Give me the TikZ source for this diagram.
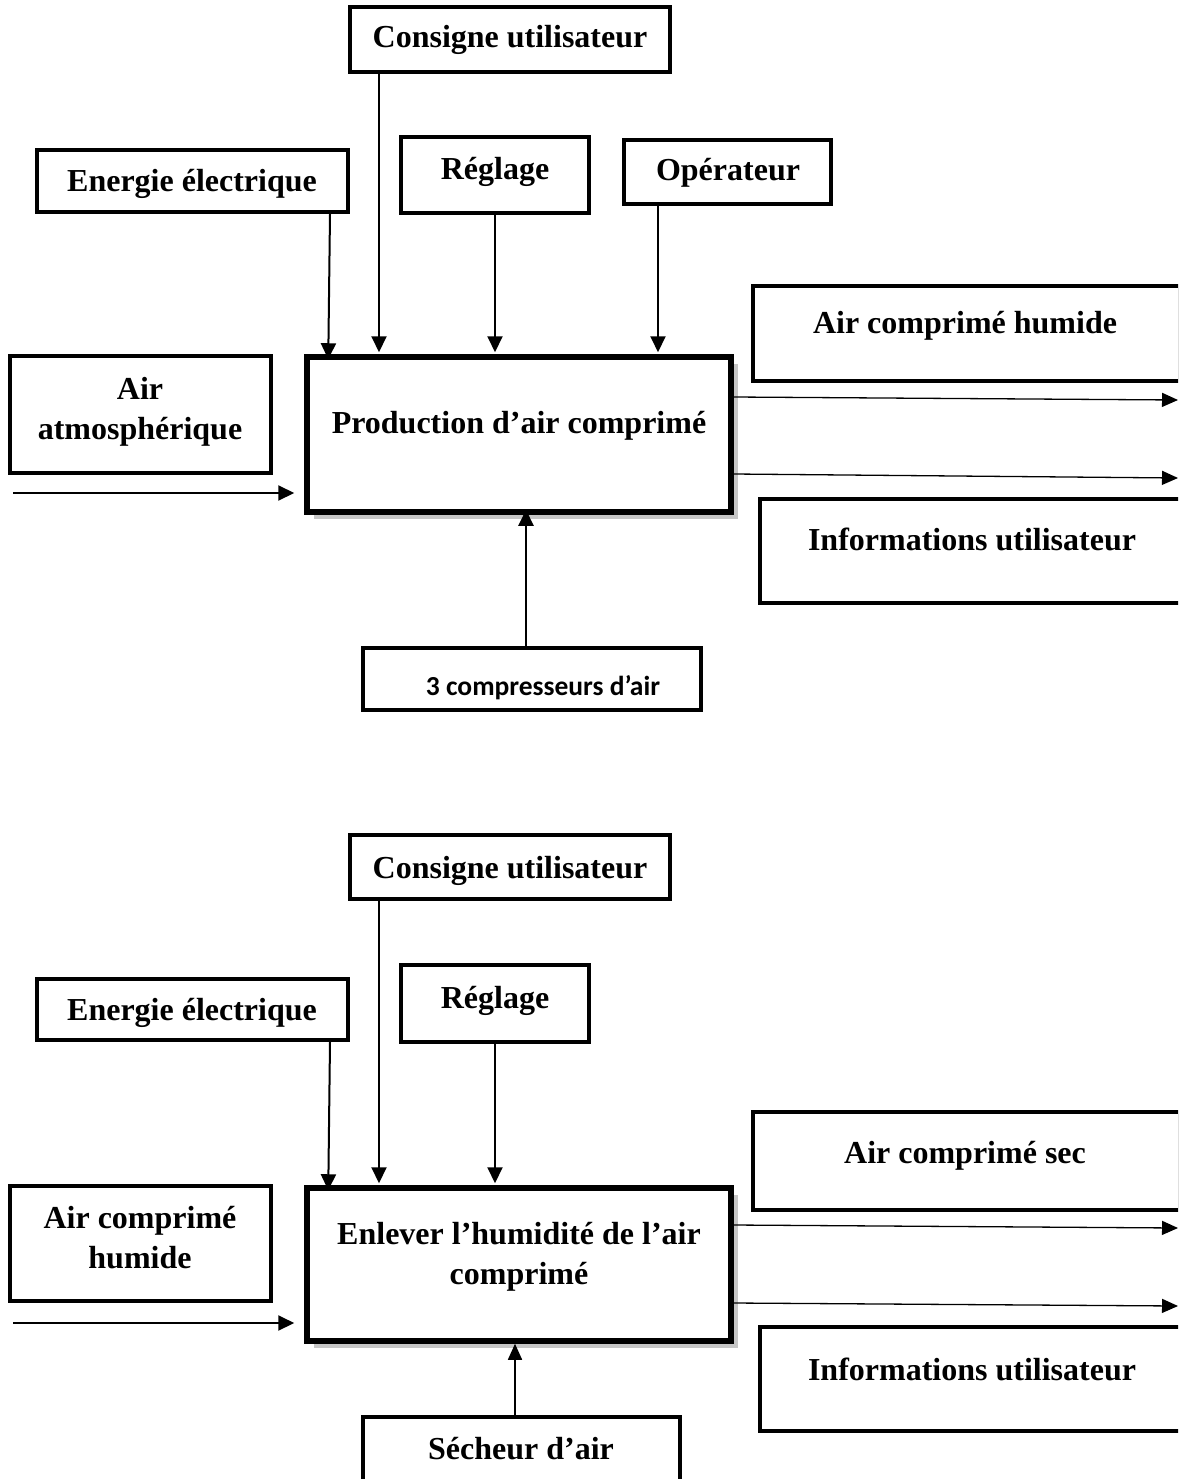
\documentclass[tikz,border=0pt]{standalone}
\usepackage{fontspec}
\setmainfont{Liberation Serif}
\newfontfamily\calibfont{Carlito}
\usetikzlibrary{arrows.meta,calc,fit,shadows}

\begin{document}
\begin{tikzpicture}[x=1pt,y=-1pt,
  box/.style={draw, line width=4pt, inner sep=0pt, fill=white},
  mainbox/.style={draw, line width=5.5pt, inner sep=0pt, fill=white,
    drop shadow={shadow xshift=6.5pt, shadow yshift=-6.5pt, fill=gray!45, opacity=1}},
  lbl/.style={font=\fontsize{32}{40}\selectfont\bfseries, anchor=base, inner sep=0pt},
  lbltwo/.style={lbl, text width=#1, align=flush center},
  sanslbl/.style={font=\fontsize{27.5}{32}\selectfont\calibfont\bfseries, anchor=base, inner sep=0pt},
  arr/.style={line width=2pt, -{Triangle[length=16pt,width=15pt]}},
  outarr/.style={line width=1.3pt, -{Triangle[length=16pt,width=14pt]}},
]
\useasboundingbox (0,0) rectangle (1178,1479);
\clip (0,0) rectangle (1178,1479);

% ---------- First stage: production of compressed air ----------
\node[box, fit={(350,7) (670,72)}] (consigne1) {};
\node[box, fit={(37,150) (348,212)}] (energie1) {};
\node[box, fit={(401,137) (589,213)}] (reglage1) {};
\node[box, fit={(624,140) (831,204)}] (operateur1) {};
\node[box, fit={(10,356) (271,473)}] (airatm) {};
\node[mainbox, fit={(307,357) (731,512)}] (main1) {};
\node[box, fit={(753,286) (1180,381)}] (sortie1a) {};
\node[box, fit={(760,499) (1190,603)}] (sortie1b) {};
\node[box, fit={(363,648) (701,710)}] (compresseurs) {};

\node[lbl] (t-consigne1) at (510,48) {Consigne utilisateur};
\node[lbl] (t-energie1) at (192,192) {Energie électrique};
\node[lbl] (t-reglage1) at (495,180) {Réglage};
\node[lbl] (t-operateur1) at (728,181) {Opérateur};
\node[lbltwo=250pt] (t-airatm) at (140,399) {Air\\atmosphérique};
\node[lbl] (t-main1) at (519,433) {Production d’air comprimé};
\node[lbl] (t-sortie1a) at (965,333) {Air comprimé humide};
\node[lbl] (t-sortie1b) at (972,550) {Informations utilisateur};
\node[sanslbl] (t-compresseurs) at (543,695) {3 compresseurs d’air};

\coordinate (in1) at (13,493);
\coordinate (end1a) at (1178,400);
\coordinate (end1b) at (1178,478);

\draw[arr] ($(energie1.south east)+(-20,0)$) -- ($(main1.north west)+(24,5)$);
\draw[arr] ($(consigne1.south west)+(31,0)$) -- ($(consigne1.south west |- main1.north)+(31,-2)$);
\draw[arr] (reglage1.south) -- ($(reglage1.south |- main1.north)+(0,-2)$);
\draw[arr] ($(operateur1.south west)+(36,0)$) -- ($(operateur1.south west |- main1.north)+(36,-2)$);
\draw[arr] (in1) -- ($(main1.west |- in1)+(-10,0)$);
\draw[outarr] ($(main1.east)+(0,-37.5)$) -- (end1a);
\draw[outarr] ($(main1.east)+(0,39.5)$) -- (end1b);
\draw[arr] ($(compresseurs.north)+(-6,0)$) -- ($(compresseurs.north |- main1.south)+(-6,-5)$);

% ---------- Second stage: drying the compressed air ----------
\node[box, fit={(350,835) (670,899)}] (consigne2) {};
\node[box, fit={(37,979) (348,1040)}] (energie2) {};
\node[box, fit={(401,965) (589,1042)}] (reglage2) {};
\node[box, fit={(10,1186) (271,1301)}] (airhum) {};
\node[mainbox, fit={(307,1188) (731,1341)}] (main2) {};
\node[box, fit={(753,1112) (1180,1210)}] (sortie2a) {};
\node[box, fit={(760,1327) (1190,1431)}] (sortie2b) {};
\node[box, fit={(363,1417) (680,1500)}] (secheur) {};

\node[lbl] (t-consigne2) at (510,878) {Consigne utilisateur};
\node[lbl] (t-energie2) at (192,1020) {Energie électrique};
\node[lbl] (t-reglage2) at (495,1008) {Réglage};
\node[lbltwo=250pt] (t-airhum) at (140,1228) {Air comprimé\\humide};
\node[lbltwo=410pt] (t-main2) at (519,1244) {Enlever l’humidité de l’air\\comprimé};
\node[lbl] (t-sortie2a) at (965,1163) {Air comprimé sec};
\node[lbl] (t-sortie2b) at (972,1380) {Informations utilisateur};
\node[lbl] (t-secheur) at (521,1459) {Sécheur d’air};

\coordinate (in2) at (13,1323);
\coordinate (end2a) at (1178,1228);
\coordinate (end2b) at (1178,1306);

\draw[arr] ($(energie2.south east)+(-20,0)$) -- ($(main2.north west)+(24,5)$);
\draw[arr] ($(consigne2.south west)+(31,0)$) -- ($(consigne2.south west |- main2.north)+(31,-2)$);
\draw[arr] (reglage2.south) -- ($(reglage2.south |- main2.north)+(0,-2)$);
\draw[arr] (in2) -- ($(main2.west |- in2)+(-10,0)$);
\draw[outarr] ($(main2.east)+(0,-39.5)$) -- (end2a);
\draw[outarr] ($(main2.east)+(0,38.5)$) -- (end2b);
\draw[outarr, line width=1.5pt] ($(secheur.north)+(-6.5,0)$) -- ($(secheur.north |- main2.south)+(-6.5,0)$);
\end{tikzpicture}
\end{document}
